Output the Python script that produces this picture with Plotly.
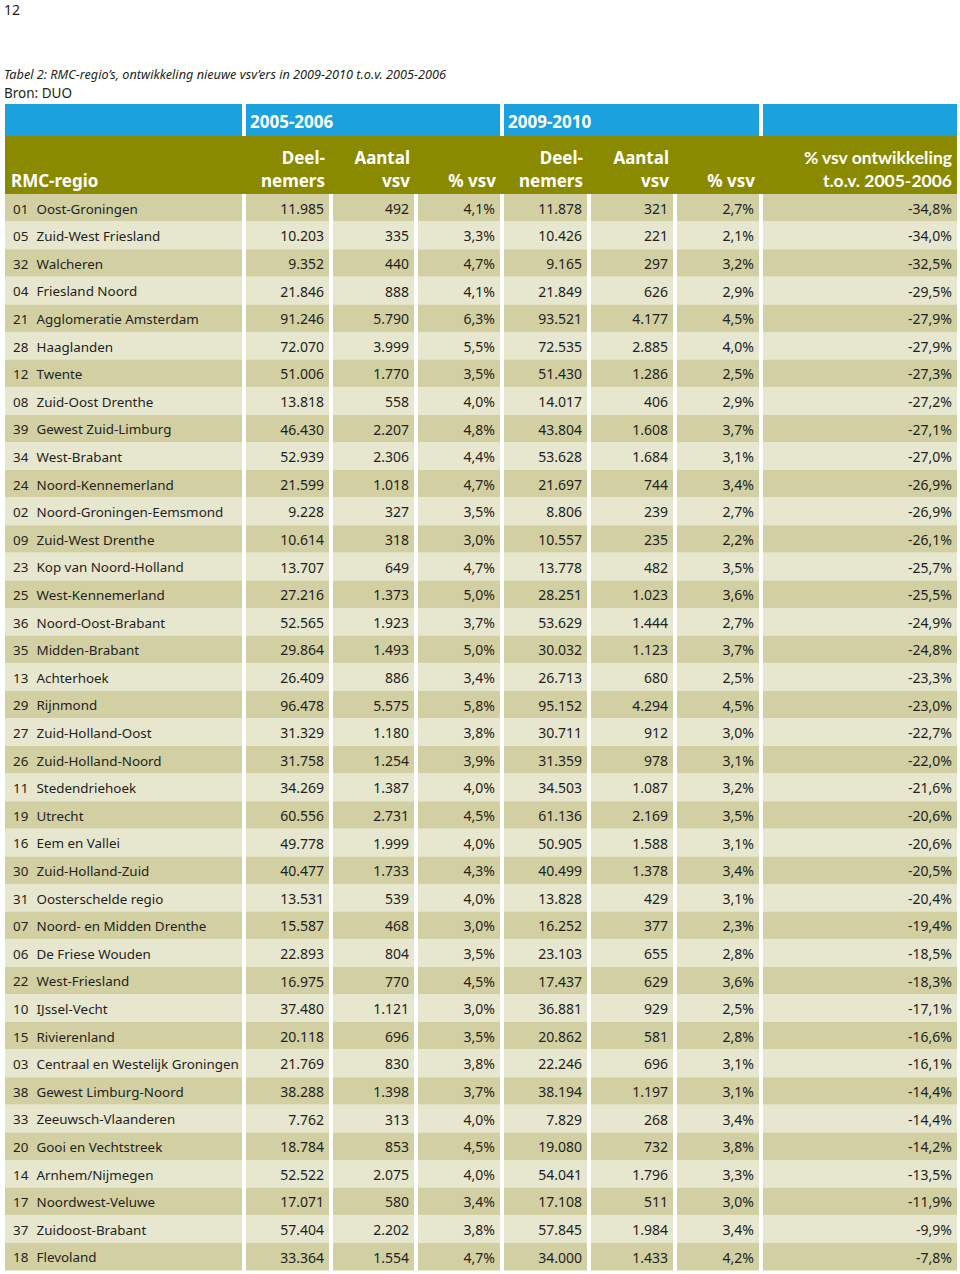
import plotly.graph_objects as go

# ---------------- data ----------------
codes = ["01", "05", "32", "04", "21", "28", "12", "08", "39", "34", "24", "02", "09",
         "23", "25", "36", "35", "13", "29", "27", "26", "11", "19", "16", "30", "31",
         "07", "06", "22", "10", "15", "03", "38", "33", "20", "14", "17", "37", "18"]
regions = ["Oost-Groningen", "Zuid-West Friesland", "Walcheren", "Friesland Noord",
           "Agglomeratie Amsterdam", "Haaglanden", "Twente", "Zuid-Oost Drenthe",
           "Gewest Zuid-Limburg", "West-Brabant", "Noord-Kennemerland",
           "Noord-Groningen-Eemsmond", "Zuid-West Drenthe", "Kop van Noord-Holland",
           "West-Kennemerland", "Noord-Oost-Brabant", "Midden-Brabant", "Achterhoek",
           "Rijnmond", "Zuid-Holland-Oost", "Zuid-Holland-Noord", "Stedendriehoek",
           "Utrecht", "Eem en Vallei", "Zuid-Holland-Zuid", "Oosterschelde regio",
           "Noord- en Midden Drenthe", "De Friese Wouden", "West-Friesland",
           "IJssel-Vecht", "Rivierenland", "Centraal en Westelijk Groningen",
           "Gewest Limburg-Noord", "Zeeuwsch-Vlaanderen", "Gooi en Vechtstreek",
           "Arnhem/Nijmegen", "Noordwest-Veluwe", "Zuidoost-Brabant", "Flevoland"]
deeln_0506 = [11985, 10203, 9352, 21846, 91246, 72070, 51006, 13818, 46430, 52939,
              21599, 9228, 10614, 13707, 27216, 52565, 29864, 26409, 96478, 31329,
              31758, 34269, 60556, 49778, 40477, 13531, 15587, 22893, 16975, 37480,
              20118, 21769, 38288, 7762, 18784, 52522, 17071, 57404, 33364]
vsv_0506 = [492, 335, 440, 888, 5790, 3999, 1770, 558, 2207, 2306, 1018, 327, 318,
            649, 1373, 1923, 1493, 886, 5575, 1180, 1254, 1387, 2731, 1999, 1733, 539,
            468, 804, 770, 1121, 696, 830, 1398, 313, 853, 2075, 580, 2202, 1554]
pct_0506 = [4.1, 3.3, 4.7, 4.1, 6.3, 5.5, 3.5, 4.0, 4.8, 4.4, 4.7, 3.5, 3.0, 4.7, 5.0,
            3.7, 5.0, 3.4, 5.8, 3.8, 3.9, 4.0, 4.5, 4.0, 4.3, 4.0, 3.0, 3.5, 4.5, 3.0,
            3.5, 3.8, 3.7, 4.0, 4.5, 4.0, 3.4, 3.8, 4.7]
deeln_0910 = [11878, 10426, 9165, 21849, 93521, 72535, 51430, 14017, 43804, 53628,
              21697, 8806, 10557, 13778, 28251, 53629, 30032, 26713, 95152, 30711,
              31359, 34503, 61136, 50905, 40499, 13828, 16252, 23103, 17437, 36881,
              20862, 22246, 38194, 7829, 19080, 54041, 17108, 57845, 34000]
vsv_0910 = [321, 221, 297, 626, 4177, 2885, 1286, 406, 1608, 1684, 744, 239, 235,
            482, 1023, 1444, 1123, 680, 4294, 912, 978, 1087, 2169, 1588, 1378, 429,
            377, 655, 629, 929, 581, 696, 1197, 268, 732, 1796, 511, 1984, 1433]
pct_0910 = [2.7, 2.1, 3.2, 2.9, 4.5, 4.0, 2.5, 2.9, 3.7, 3.1, 3.4, 2.7, 2.2, 3.5, 3.6,
            2.7, 3.7, 2.5, 4.5, 3.0, 3.1, 3.2, 3.5, 3.1, 3.4, 3.1, 2.3, 2.8, 3.6, 2.5,
            2.8, 3.1, 3.1, 3.4, 3.8, 3.3, 3.0, 3.4, 4.2]
ontwikkeling = [-34.8, -34.0, -32.5, -29.5, -27.9, -27.9, -27.3, -27.2, -27.1, -27.0,
                -26.9, -26.9, -26.1, -25.7, -25.5, -24.9, -24.8, -23.3, -23.0, -22.7,
                -22.0, -21.6, -20.6, -20.6, -20.5, -20.4, -19.4, -18.5, -18.3, -17.1,
                -16.6, -16.1, -14.4, -14.4, -14.2, -13.5, -11.9, -9.9, -7.8]

page_number = "12"
title = "Tabel 2: RMC-regio’s, ontwikkeling nieuwe vsv’ers in 2009-2010 t.o.v. 2005-2006"
source = "Bron: DUO"
group_labels = ["2005-2006", "2009-2010"]
col_headers = [["Deel-", "nemers"], ["Aantal", "vsv"], ["", "% vsv"],
               ["Deel-", "nemers"], ["Aantal", "vsv"], ["", "% vsv"],
               ["% vsv ontwikkeling", "t.o.v. 2005-2006"]]
first_header = "RMC-regio"

# ---------------- formatting ----------------
def fmt_int(v):
    return f"{v:,}".replace(",", ".")

def fmt_pct(v):
    return f"{v:.1f}%".replace(".", ",")

columns_text = [
    [fmt_int(v) for v in deeln_0506],
    [fmt_int(v) for v in vsv_0506],
    [fmt_pct(v) for v in pct_0506],
    [fmt_int(v) for v in deeln_0910],
    [fmt_int(v) for v in vsv_0910],
    [fmt_pct(v) for v in pct_0910],
    [fmt_pct(v) for v in ontwikkeling],
]

# ---------------- layout constants ----------------
W, H = 960, 1274
BODY_FONT = "Noto Sans"
HEAD_FONT = "Noto Sans"
TXT = "#231f20"
BLUE = "#1ba1dd"
OLIVE = "#8a8a00"
DARK = "#d2d0a2"
LIGHT = "#e7e6cf"
DY = 2.5  # svg text baseline compensation

col_left = [5, 246, 333, 418, 504, 591, 677, 763]
col_right = [242, 329, 414, 500, 587, 673, 759, 957]
top_rows = 194.0
row_h = 27.6
n = len(regions)
row_y = [top_rows + (i + 0.5) * row_h for i in range(n)]
txt_y = [y + DY for y in row_y]
row_colors = [DARK if i % 2 == 0 else LIGHT for i in range(n)]

fig = go.Figure()

# body cells (horizontal bars on the pixel-scaled axes)
for c in range(8):
    fig.add_trace(go.Bar(
        orientation="h", y=row_y, x=[col_right[c] - col_left[c]] * n,
        base=[col_left[c]] * n, width=[row_h] * n,
        marker=dict(color=row_colors, line=dict(width=0)),
        hoverinfo="skip", showlegend=False))

# blue group header
blue_spans = [(5, 242), (246, 500), (504, 759), (763, 957)]
for l, r in blue_spans:
    fig.add_trace(go.Bar(orientation="h", y=[120], x=[r - l], base=[l], width=[32],
                         marker=dict(color=BLUE, line=dict(width=0)),
                         hoverinfo="skip", showlegend=False))
# olive column header
fig.add_trace(go.Bar(orientation="h", y=[165], x=[957 - 5], base=[5], width=[58],
                     marker=dict(color=OLIVE, line=dict(width=0)),
                     hoverinfo="skip", showlegend=False))

name_font = dict(family=BODY_FONT, size=13.4, color=TXT)
num_font = dict(family=BODY_FONT, size=14, color=TXT)
# body text: code + region
fig.add_trace(go.Scatter(x=[13] * n, y=txt_y, text=codes, mode="text",
                         textposition="middle right", textfont=name_font,
                         hoverinfo="skip", showlegend=False))
fig.add_trace(go.Scatter(x=[36.5] * n, y=txt_y, text=regions, mode="text",
                         textposition="middle right", textfont=name_font,
                         hoverinfo="skip", showlegend=False))
for c in range(7):
    fig.add_trace(go.Scatter(x=[col_right[c + 1] - 5] * n, y=txt_y,
                             text=columns_text[c], mode="text",
                             textposition="middle left", textfont=num_font,
                             hoverinfo="skip", showlegend=False))

# header texts
hdr_font = dict(family=HEAD_FONT, size=17, color="white", weight="bold")
fig.add_trace(go.Scatter(x=[250, 508], y=[121 + DY, 121 + DY], text=group_labels,
                         mode="text", textposition="middle right", textfont=hdr_font,
                         hoverinfo="skip", showlegend=False))
fig.add_trace(go.Scatter(x=[11], y=[180 + DY], text=[first_header], mode="text",
                         textposition="middle right", textfont=hdr_font,
                         hoverinfo="skip", showlegend=False))
hx = [col_right[c + 1] - 4 for c in range(6)]
fig.add_trace(go.Scatter(x=hx, y=[157 + DY] * 6, text=[h[0] for h in col_headers[:6]],
                         mode="text", textposition="middle left", textfont=hdr_font,
                         hoverinfo="skip", showlegend=False))
fig.add_trace(go.Scatter(x=hx, y=[180 + DY] * 6, text=[h[1] for h in col_headers[:6]],
                         mode="text", textposition="middle left", textfont=hdr_font,
                         hoverinfo="skip", showlegend=False))
# last (condensed) header
last_font = dict(family="Lato", size=17.5, color="white", weight="bold")
fig.add_trace(go.Scatter(x=[952, 952], y=[157 + DY, 180 + DY], text=col_headers[6],
                         mode="text", textposition="middle left", textfont=last_font,
                         hoverinfo="skip", showlegend=False))

# page number, title, source
fig.add_trace(go.Scatter(x=[4, 4, 4], y=[11, 73 + DY, 92 + DY],
                         text=[page_number, "<i>" + title + "</i>", source],
                         mode="text", textposition="middle right",
                         textfont=dict(family=BODY_FONT, size=[14, 12.7, 13.5], color=TXT),
                         hoverinfo="skip", showlegend=False))

fig.update_layout(
    width=W, height=H, margin=dict(l=0, r=0, t=0, b=0),
    paper_bgcolor="white", plot_bgcolor="white", barmode="overlay",
    xaxis=dict(range=[0, W], visible=False, fixedrange=True),
    yaxis=dict(range=[H, 0], visible=False, fixedrange=True),
    showlegend=False,
)

fig.write_html("out.html", config={"displayModeBar": False},
               post_script="document.body.style.margin='0';document.body.style.overflow='hidden';")
